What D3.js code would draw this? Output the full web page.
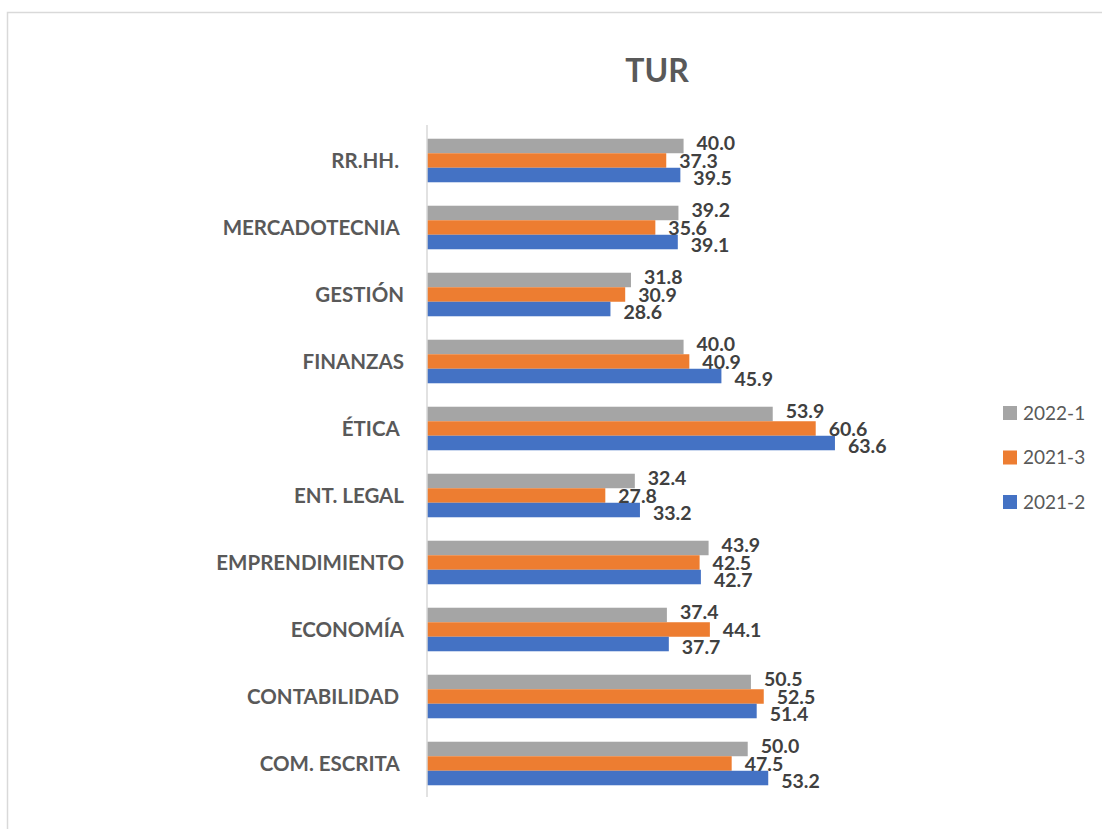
<!DOCTYPE html>
<meta charset="utf-8">
<style>
body { margin: 0; background: #fff; }
text { font-family: Lato, "Open Sans", sans-serif; }
.cat text { font-weight: bold; font-size: 20.5px; fill: #595959; white-space: pre; }
.vals text { font-weight: bold; font-size: 19.5px; fill: #404040; }
.legend text { font-size: 19px; fill: #595959; }
</style>
<svg width="1102" height="829"></svg>
<script src="https://d3js.org/d3.v7.min.js"></script>
<script>

// categories top to bottom (some labels carry a trailing space, as in the source)
var categories = ["RR.HH. ", "MERCADOTECNIA ", "GESTIÓN", "FINANZAS", "ÉTICA ",
                  "ENT. LEGAL", "EMPRENDIMIENTO", "ECONOMÍA", "CONTABILIDAD ", "COM. ESCRITA "];
var series = ["2022-1", "2021-3", "2021-2"];
var colors = ["#A5A5A5", "#ED7D31", "#4472C4"];

var v2022_1 = [40.0, 39.2, 31.8, 40.0, 53.9, 32.4, 43.9, 37.4, 50.5, 50.0];
var v2021_3 = [37.3, 35.6, 30.9, 40.9, 60.6, 27.8, 42.5, 44.1, 52.5, 47.5];
var v2021_2 = [39.5, 39.1, 28.6, 45.9, 63.6, 33.2, 42.7, 37.7, 51.4, 53.2];
var values = [v2022_1, v2021_3, v2021_2];

// small vertical nudge of the value labels per series (top / middle / bottom)
var labelShift = [-3, 0, 3];

var svg = d3.select("svg");

// chart frame (right and bottom edges fall outside the window)
svg.append("rect")
    .attr("x", 7.5).attr("y", 12.5)
    .attr("width", 1200).attr("height", 900)
    .attr("fill", "none")
    .attr("stroke", "#d9d9d9")
    .attr("stroke-width", 1.5);

svg.append("text")
    .attr("x", 657).attr("y", 82)
    .attr("text-anchor", "middle")
    .style("font-size", "32px")
    .style("font-weight", "bold")
    .style("fill", "#595959")
    .text("TUR");

var x = d3.scaleLinear().domain([0, 70]).range([427, 876]);

var y = d3.scaleBand()
    .domain(categories)
    .range([127, 797])
    .paddingInner(0.35)
    .paddingOuter(0.175);

var ys = d3.scaleBand().domain(series).range([0, y.bandwidth()]);

var rows = [];
categories.forEach(function(c, i) {
  series.forEach(function(s, j) {
    rows.push({cat: c, ser: s, idx: j, val: values[j][i], color: colors[j]});
  });
});

svg.append("g")
  .selectAll("rect")
  .data(rows)
  .enter().append("rect")
    .attr("x", x(0))
    .attr("y", function(d) { return y(d.cat) + ys(d.ser); })
    .attr("width", function(d) { return x(d.val) - x(0); })
    .attr("height", ys.bandwidth())
    .attr("fill", function(d) { return d.color; });

// vertical axis line
svg.append("line")
    .attr("x1", x(0)).attr("x2", x(0))
    .attr("y1", 125).attr("y2", 797)
    .attr("stroke", "#d9d9d9")
    .attr("stroke-width", 1.5);

svg.append("g")
    .attr("class", "cat")
  .selectAll("text")
  .data(categories)
  .enter().append("text")
    .attr("x", 404)
    .attr("y", function(d) { return y(d) + y.bandwidth() / 2; })
    .attr("dy", "0.35em")
    .attr("text-anchor", "end")
    .text(function(d) { return d; });

svg.append("g")
    .attr("class", "vals")
  .selectAll("text")
  .data(rows)
  .enter().append("text")
    .attr("x", function(d) { return x(d.val) + 13; })
    .attr("y", function(d) { return y(d.cat) + ys(d.ser) + ys.bandwidth() / 2 + labelShift[d.idx]; })
    .attr("dy", "0.36em")
    .text(function(d) { return d.val.toFixed(1); });

var legend = svg.append("g")
    .attr("class", "legend")
  .selectAll("g")
  .data(series)
  .enter().append("g")
    .attr("transform", function(d, i) { return "translate(1003," + (413 + i * 44.5) + ")"; });

legend.append("rect")
    .attr("x", 0).attr("y", -7)
    .attr("width", 14).attr("height", 14)
    .attr("fill", function(d, i) { return colors[i]; });

legend.append("text")
    .attr("x", 20)
    .attr("dy", "0.36em")
    .text(function(d) { return d; });

</script>
